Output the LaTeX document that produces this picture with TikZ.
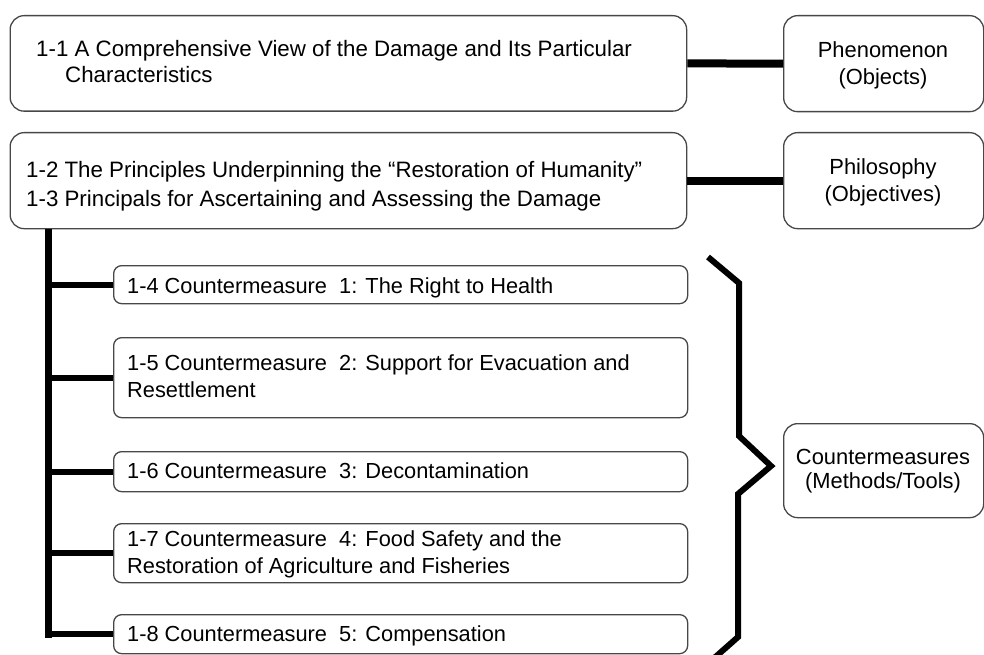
\documentclass[tikz,border=0pt]{standalone}
\usepackage{fontspec}
\setmainfont{Liberation Sans}
\usetikzlibrary{calc}
\begin{document}
\begin{tikzpicture}[x=1pt,y=-1pt,
  box/.style={draw=black!72, line width=1.3pt, rounded corners=14pt,
    anchor=north west, inner sep=0pt, fill=white},
  smallbox/.style={box, rounded corners=8pt},
  txt/.style={anchor=base west, inner sep=0pt, font=\fontsize{22.3}{26}\selectfont},
  smalltxt/.style={txt, font=\fontsize{21.8}{26}\selectfont},
  sidetxt/.style={anchor=base, inner sep=0pt, font=\fontsize{21.9}{26}\selectfont},
  link/.style={line width=8pt, black},
  stem/.style={line width=6.5pt, black},
  twig/.style={line width=6pt, black},
  bracket/.style={line width=6pt, black, line join=miter, line cap=butt},
]
\useasboundingbox[fill=white] (0,0) rectangle (984,655);

% upper row: view of the damage and principles
\node[box, minimum width=676.5pt, minimum height=95.5pt] (b1) at (9.5,15) {};
\node[box, minimum width=200pt, minimum height=96pt] (ph) at (783,15) {};
\node[box, minimum width=676.5pt, minimum height=96pt] (b2) at (9.5,132) {};
\node[box, minimum width=200pt, minimum height=96pt] (phil) at (783,132) {};

\node[txt] (t1a) at ($(b1.north west)+(26.5,42)$) {1-1 A Comprehensive View of the Damage and Its Particular};
\node[txt] (t1b) at ($(b1.north west)+(55.5,68)$) {Characteristics};
\node[txt] (t2a) at ($(b2.north west)+(16.5,46)$) {1-2 The Principles Underpinning the “Restoration of Humanity”};
\node[txt] (t2b) at ($(b2.north west)+(16.5,74)$) {1-3 Principals for Ascertaining and Assessing the Damage};

\node[sidetxt] (tph1) at (883,58) {Phenomenon};
\node[sidetxt] (tph2) at (883,85) {(Objects)};
\node[sidetxt] (tpl1) at (883,175) {Philosophy};
\node[sidetxt] (tpl2) at (883,201) {(Objectives)};

% countermeasure boxes
\node[smallbox, minimum width=574pt, minimum height=38pt] (b4) at (113,265) {};
\node[smallbox, minimum width=574pt, minimum height=80pt] (b5) at (113,337) {};
\node[smallbox, minimum width=574pt, minimum height=40pt] (b6) at (113,451) {};
\node[smallbox, minimum width=574pt, minimum height=59pt] (b7) at (113,523) {};
\node[smallbox, minimum width=574pt, minimum height=39pt] (b8) at (113,614) {};
\node[box, minimum width=200pt, minimum height=94pt] (cm) at (783,423) {};

\node[smalltxt] (t4) at ($(b4.north west)+(14,28)$) {1-4 Countermeasure\ \ 1: The Right to Health};
\node[smalltxt] (t5a) at ($(b5.north west)+(14,33)$) {1-5 Countermeasure\ \ 2: Support for Evacuation and};
\node[smalltxt] (t5b) at ($(b5.north west)+(14,60)$) {Resettlement};
\node[smalltxt] (t6) at ($(b6.north west)+(14,27)$) {1-6 Countermeasure\ \ 3: Decontamination};
\node[smalltxt] (t7a) at ($(b7.north west)+(14,23)$) {1-7 Countermeasure\ \ 4: Food Safety and the};
\node[smalltxt] (t7b) at ($(b7.north west)+(14,50)$) {Restoration of Agriculture and Fisheries};
\node[smalltxt] (t8) at ($(b8.north west)+(14,27.5)$) {1-8 Countermeasure\ \ 5: Compensation};

\node[sidetxt] (tcm1) at (883,464) {Countermeasures};
\node[sidetxt] (tcm2) at (883,488) {(Methods/Tools)};

% links to the right-hand categories
\draw[link] (b1.east) -- (ph.west);
\draw[link] (b2.east) -- (phil.west);

% tree from the principles down to the countermeasures
\coordinate (stemtop) at ($(b2.south west)+(39,0)$);
\coordinate (stemend) at (48.5,638);
\draw[stem] (stemtop) -- (stemend);
\foreach \b in {b4,b5,b6,b7,b8}
  \draw[twig] (stemtop |- \b.west) -- (\b.west);

% curly bracket gathering the countermeasures
\coordinate (k1) at (708,257);
\coordinate (k2) at (739,283);
\coordinate (k3) at (739,436);
\coordinate (tip) at (771,466);
\coordinate (k5) at (738,494);
\coordinate (k6) at (738,637);
\coordinate (k7) at (712,660);
\draw[bracket] (k1) -- (k2) -- (k3) -- (tip) -- (k5) -- (k6) -- (k7);
\end{tikzpicture}
\end{document}
